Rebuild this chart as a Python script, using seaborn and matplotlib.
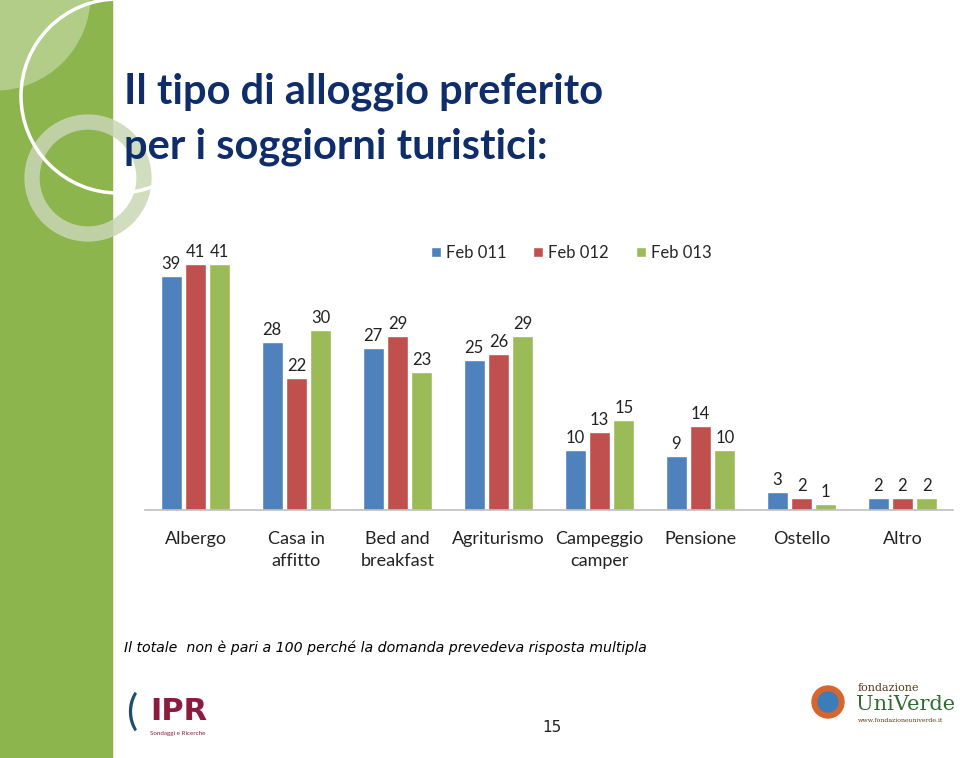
"""Slide: tipo di alloggio preferito per i soggiorni turistici"""

import matplotlib.pyplot as plt
import numpy as np
import pandas as pd
import seaborn as sns
from matplotlib.patches import Circle, Rectangle

categorie = [
    "Albergo",
    "Casa in\naffitto",
    "Bed and\nbreakfast",
    "Agriturismo",
    "Campeggio\ncamper",
    "Pensione",
    "Ostello",
    "Altro",
]
anni = ["Feb 011", "Feb 012", "Feb 013"]
feb_011 = [39, 28, 27, 25, 10, 9, 3, 2]
feb_012 = [41, 22, 29, 26, 13, 14, 2, 2]
feb_013 = [41, 30, 23, 29, 15, 10, 1, 2]
colori = ["#4F81BD", "#C0504D", "#9BBB59"]

df = pd.DataFrame(
    {
        "tipo": categorie * 3,
        "anno": np.repeat(anni, len(categorie)),
        "valore": feb_011 + feb_012 + feb_013,
    }
)

sns.set_theme(style="white")
plt.rcParams["font.family"] = ["Lato", "DejaVu Sans"]

W, H = 960, 758
fig = plt.figure(figsize=(W / 100, H / 100), dpi=100)

# background layer in pixel coordinates
bg = fig.add_axes([0, 0, 1, 1])
bg.set_xlim(0, W)
bg.set_ylim(H, 0)
bg.axis("off")
band = Rectangle((0, 0), 112, H, color="#8CB54E", zorder=0)
bg.add_patch(band)
light = Circle((-5, -5), 95, color="#B2CD88", zorder=1)
light.set_clip_path(band)
bg.add_patch(light)
ring = Circle((88, 178), 56, fill=False, lw=11, ec="#C9D7B4", alpha=0.85, zorder=2)
ring.set_clip_path(band)
bg.add_patch(ring)
big = Circle((118, 96), 97, fill=False, lw=2.5, ec="white", zorder=3)
big.set_clip_path(band)
bg.add_patch(big)

# title
bg.text(124, 92, "Il tipo di alloggio preferito", fontsize=30, fontweight="bold",
        color="#0F2D6B", va="center", ha="left")
bg.text(124, 147, "per i soggiorni turistici:", fontsize=30, fontweight="bold",
        color="#0F2D6B", va="center", ha="left")

# footnote, page number, logos
bg.text(124, 648, "Il totale  non è pari a 100 perché la domanda prevedeva risposta multipla",
        fontsize=10.2, style="italic", color="black", va="center", ha="left",
        family=["DejaVu Sans"])
bg.text(552, 728, "15", fontsize=11, color="#222222", va="center", ha="center",
        family=["DejaVu Sans"])
bg.text(150, 712, "IPR", fontsize=22, fontweight="bold", color="#8E1B3E",
        va="center", ha="left", family=["DejaVu Sans"])
bg.text(150, 733, "Sondaggi e Ricerche", fontsize=4.5, color="#8E1B3E",
        va="center", ha="left")
bg.text(126, 712, "(", fontsize=30, color="#1F4E6B", va="center", ha="left")
bg.text(858, 688, "fondazione", fontsize=8, color="#5A3A1A", va="center", ha="left",
        family=["DejaVu Serif"])
bg.text(856, 704, "UniVerde", fontsize=15, color="#2E6E2E", va="center", ha="left",
        family=["DejaVu Serif"])
bg.text(858, 720, "www.fondazioneuniverde.it", fontsize=4.5, color="#5A3A1A",
        va="center", ha="left", family=["DejaVu Serif"])
bg.add_patch(Circle((828, 702), 16, color="#D9652E", zorder=3))
bg.add_patch(Circle((828, 702), 10, color="#3B7DB8", zorder=4))

# chart
ax = fig.add_axes([145 / W, (H - 510) / H, 808 / W, 270 / H])
sns.barplot(
    data=df,
    x="tipo",
    y="valore",
    hue="anno",
    palette=colori,
    width=0.72,
    gap=0.12,
    saturation=1,
    ax=ax,
)
for cont in ax.containers:
    ax.bar_label(cont, fontsize=12, padding=3, color="#222222")

ax.set_ylim(0, 45)
ax.set_xlim(-0.5, len(categorie) - 0.5)
ax.set_yticks([])
ax.set_xlabel("")
ax.set_ylabel("")
for side in ["top", "right", "left"]:
    ax.spines[side].set_visible(False)
ax.spines["bottom"].set_color("#BFBFBF")
ax.spines["bottom"].set_linewidth(1.2)
ax.tick_params(axis="x", labelsize=13, colors="#222222", pad=15, length=0)
for lab in ax.get_xticklabels():
    lab.set_linespacing(1.45)
ax.patch.set_alpha(0)

ax.legend(
    loc="center left",
    bbox_to_anchor=(416 / W, (H - 253) / H),
    bbox_transform=fig.transFigure,
    ncol=3,
    frameon=False,
    fontsize=12,
    handlelength=0.6,
    handleheight=0.6,
    handletextpad=0.3,
    columnspacing=1.6,
)

plt.savefig("out.png", dpi=100)
plt.close()
